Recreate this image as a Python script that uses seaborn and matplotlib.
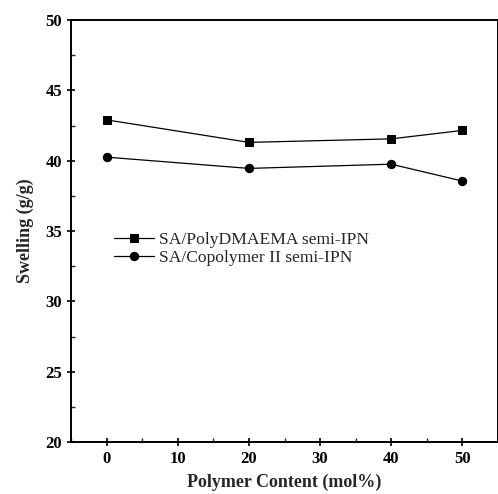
import pandas as pd
import matplotlib
matplotlib.use("Agg")
import matplotlib.pyplot as plt
from matplotlib.ticker import MultipleLocator
import seaborn as sns

content = [0, 20, 40, 50]
swell_dmaema = [42.9, 41.3, 41.55, 42.15]
swell_copoly = [40.25, 39.45, 39.75, 38.55]
labels = ["SA/PolyDMAEMA semi-IPN", "SA/Copolymer II semi-IPN"]

df = pd.DataFrame({
    "content": content * 2,
    "swelling": swell_dmaema + swell_copoly,
    "series": [labels[0]] * 4 + [labels[1]] * 4,
})

sns.set_style("ticks")
plt.rcParams["font.family"] = ["Liberation Serif", "DejaVu Serif"]

fig = plt.figure(figsize=(4.98, 4.94), dpi=100)
ax = fig.add_axes([71 / 498, 1 - 442 / 494, 427 / 498, 422 / 494])

sns.lineplot(data=df, x="content", y="swelling", hue="series", style="series",
             markers={labels[0]: "s", labels[1]: "o"}, dashes=False,
             palette=["black", "black"], linewidth=0.9, markersize=6,
             markeredgecolor="black", ax=ax)

ax.set_xlim(-5, 55)
ax.set_ylim(20, 50)
ax.xaxis.set_major_locator(MultipleLocator(10))
ax.xaxis.set_minor_locator(MultipleLocator(5))
ax.yaxis.set_major_locator(MultipleLocator(5))
ax.yaxis.set_minor_locator(MultipleLocator(2.5))
ax.tick_params(axis="both", which="major", direction="inout", length=6, width=1.2,
               labelsize=12, colors="black")
ax.tick_params(axis="both", which="minor", direction="in", length=3, width=1)
for lab in ax.get_xticklabels() + ax.get_yticklabels():
    lab.set_fontweight("bold")
for s in ax.spines.values():
    s.set_linewidth(1.4)
    s.set_color("black")

ax.set_xlabel("Polymer Content (mol%)", fontsize=13, fontweight="bold", labelpad=5)
ax.set_ylabel("Swelling (g/g)", fontsize=13, fontweight="bold", labelpad=8)

leg = ax.legend(loc="upper left", bbox_to_anchor=(0.1, 0.498), frameon=False,
                fontsize=12.6, handlelength=2.3, handletextpad=0.3, labelspacing=0.1,
                borderaxespad=0, borderpad=0)

fig.savefig("out.png", dpi=100)
